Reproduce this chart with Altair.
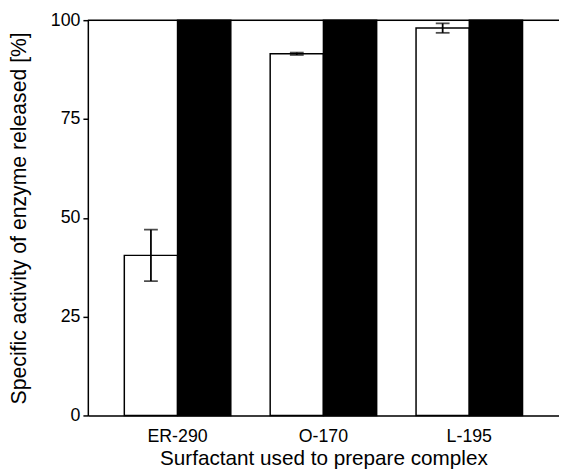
import altair as alt
import pandas as pd

surfactants = ["ER-290", "O-170", "L-195"]
released = [40.5, 91.5, 98.0]
released_err = [6.5, 0.3, 1.2]
reference = [100.0, 100.0, 100.0]
series = ["released", "reference"]
y_ticks = [0, 25, 50, 75, 100]

rows = []
for s, r, e, ref in zip(surfactants, released, released_err, reference):
    rows.append({"surfactant": s, "series": "released", "value": r, "lo": r - e, "hi": r + e})
    rows.append({"surfactant": s, "series": "reference", "value": ref, "lo": None, "hi": None})
df = pd.DataFrame(rows)

FONT = "Liberation Sans"
W, H = 478, 401

x = alt.X("surfactant:N", sort=surfactants,
          scale=alt.Scale(paddingInner=0.27, paddingOuter=0.25),
          axis=alt.Axis(title="Surfactant used to prepare complex", labelAngle=0,
                        ticks=False, domainColor="black", domainWidth=1.5,
                        labelColor="black", labelFont=FONT, labelFontSize=18,
                        labelPadding=12, titleFont=FONT, titleFontSize=21,
                        titleFontWeight="normal", titleColor="black", titlePadding=3))
xoff = alt.XOffset("series:N", sort=series, scale=alt.Scale(domain=series, paddingInner=0, paddingOuter=0))

base = alt.Chart(df)

bars = base.mark_bar(stroke="black", strokeWidth=1.5).encode(
    x=x,
    xOffset=xoff,
    y=alt.Y("value:Q", scale=alt.Scale(domain=[0, 100], nice=False),
            axis=alt.Axis(values=y_ticks, title="Specific activity of enzyme released [%]",
                          grid=False, domainColor="black", domainWidth=1.5,
                          tickColor="black", tickSize=5, tickWidth=1.5,
                          labelColor="black", labelFont=FONT, labelFontSize=18,
                          labelPadding=3, titleFont=FONT, titleFontSize=21.5,
                          titleFontWeight="normal", titleColor="black", titlePadding=20)),
    fill=alt.Fill("series:N", scale=alt.Scale(domain=series, range=["white", "black"]), legend=None),
)

err_df = df[df["series"] == "released"]
errbase = alt.Chart(err_df)
err_line = errbase.mark_rule(color="black", strokeWidth=1.8).encode(
    x=alt.X("surfactant:N", sort=surfactants),
    xOffset=alt.XOffset("series:N", sort=series),
    y="lo:Q", y2="hi:Q",
)
cap_lo = errbase.mark_tick(color="black", thickness=1.8, size=14, orient="horizontal").encode(
    x=alt.X("surfactant:N", sort=surfactants),
    xOffset=alt.XOffset("series:N", sort=series),
    y="lo:Q",
)
cap_hi = errbase.mark_tick(color="black", thickness=1.8, size=14, orient="horizontal").encode(
    x=alt.X("surfactant:N", sort=surfactants),
    xOffset=alt.XOffset("series:N", sort=series),
    y="hi:Q",
)
top_line = alt.Chart(pd.DataFrame({"v": [100]})).mark_rule(color="black", strokeWidth=1.5).encode(
    y=alt.Y("v:Q")
)

chart = alt.layer(bars, err_line, cap_lo, cap_hi, top_line).properties(
    width=W, height=H,
    autosize=alt.AutoSizeParams(type="none"),
    padding={"left": 81, "top": 9, "right": 0, "bottom": 54},
).configure_view(stroke=None).configure(background="white")

chart.save("out.html", embed_options={"renderer": "svg", "actions": False})
